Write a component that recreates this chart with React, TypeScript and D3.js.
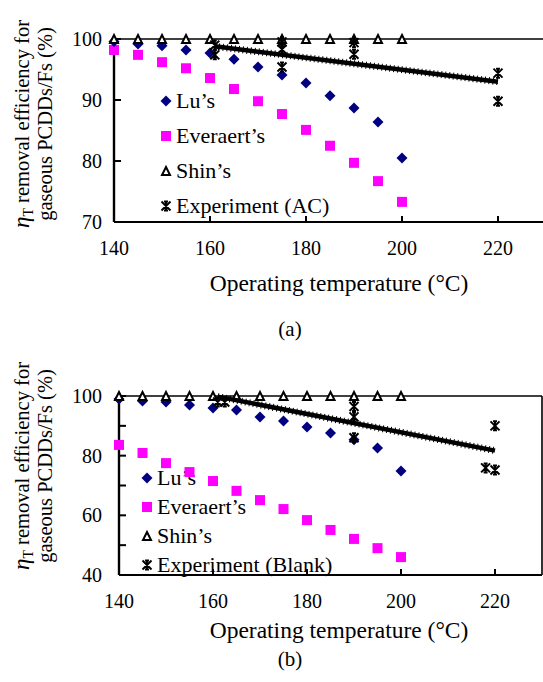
import React from 'react';
import * as d3 from 'd3';

// operating temperatures of the model series (°C)
const temps = [140, 145, 150, 155, 160, 165, 170, 175, 180, 185, 190, 195, 200];

// (a) AC
const luA = [99.6, 99.2, 98.9, 98.2, 97.7, 96.7, 95.4, 94.1, 92.8, 90.7, 88.7, 86.4, 80.5];
const everaertA = [98.2, 97.4, 96.2, 95.2, 93.6, 91.8, 89.8, 87.7, 85.1, 82.5, 79.7, 76.7, 73.3];
const shinA = [100, 100, 100, 100, 100, 100, 100, 100, 100, 100, 100, 100, 100];
const expLineA: [number, number][] = [[161, 98.8], [220, 93.0]];
const expPointsA: [number, number][] = [
  [161, 99.0], [161, 97.4], [175, 99.5], [175, 98.3], [175, 95.4],
  [190, 99.4], [190, 97.5], [220, 94.4], [220, 89.8],
];

// (b) Blank
const luB = [99.0, 98.3, 98.0, 97.0, 96.0, 95.3, 93.0, 91.6, 89.6, 87.6, 85.3, 82.6, 74.9];
const everaertB = [83.6, 80.9, 77.5, 74.5, 71.5, 68.2, 65.1, 62.1, 58.4, 55.1, 52.1, 49.0, 46.0];
const shinB = [100, 100, 100, 100, 100, 100, 100, 100, 100, 100, 100, 100, 100];
const expLineB: [number, number][] = [[161, 99.8], [220, 81.7]];
const expPointsB: [number, number][] = [
  [161, 98.0], [162.5, 98.0], [190, 96.5], [190, 93.0], [190, 86.0],
  [218, 75.9], [220, 75.2], [220, 90.0],
];

const xTicks = [140, 160, 180, 200, 220];
const yTicksA = [70, 80, 90, 100];
const yTicksB = [40, 50, 60, 70, 80, 90, 100];
const yLabelsB = [40, 60, 80, 100];

const FONT = '"Liberation Serif", "Times New Roman", serif';
const NAVY = '#000080';
const MAGENTA = '#FF00FF';

function Diamond({ x, y, r = 5.5 }: { x: number; y: number; r?: number }) {
  return <path d={`M${x},${y - r}L${x + r},${y}L${x},${y + r}L${x - r},${y}Z`} fill={NAVY} />;
}
function Square({ x, y, s = 10 }: { x: number; y: number; s?: number }) {
  return <rect x={x - s / 2} y={y - s / 2} width={s} height={s} fill={MAGENTA} />;
}
function Tri({ x, y, s = 8 }: { x: number; y: number; s?: number }) {
  return (
    <path
      d={`M${x},${y - s / 2}L${x + s / 2},${y + s / 2}L${x - s / 2},${y + s / 2}Z`}
      fill="#fff"
      stroke="#000"
      strokeWidth={2}
    />
  );
}
function Star({ x, y, r = 4.5 }: { x: number; y: number; r?: number }) {
  return (
    <path
      d={`M${x - r},${y - r}L${x + r},${y + r}M${x + r},${y - r}L${x - r},${y + r}M${x},${y - r}L${x},${y + r}M${x - 2},${y - r}L${x + 2},${y - r}M${x - 2},${y + r}L${x + 2},${y + r}`}
      stroke="#000"
      strokeWidth={2}
      fill="none"
    />
  );
}

type PanelProps = {
  top: number; bottom: number; left: number; right: number;
  xDomain: [number, number]; yDomain: [number, number];
  yTicks: number[]; yLabels: number[];
  lu: number[]; everaert: number[]; shin: number[];
  expLine: [number, number][]; expPoints: [number, number][];
  legendX: number; legendY: number; legendGap: number;
  expName: string; titleCenter: number; xTitleY: number; tag: string; tagY: number;
};

function Panel(p: PanelProps) {
  const x = d3.scaleLinear().domain(p.xDomain).range([p.left, p.right]);
  const y = d3.scaleLinear().domain(p.yDomain).range([p.bottom, p.top]);
  const line = d3.line<[number, number]>().x(d => x(d[0])).y(d => y(d[1]));
  const legend = [
    { name: "Lu\u2019s", m: (cx: number, cy: number) => <Diamond x={cx} y={cy} /> },
    { name: "Everaert\u2019s", m: (cx: number, cy: number) => <Square x={cx} y={cy} /> },
    { name: "Shin\u2019s", m: (cx: number, cy: number) => <Tri x={cx} y={cy} /> },
    { name: p.expName, m: (cx: number, cy: number) => <Star x={cx} y={cy} /> },
  ];
  return (
    <g fontFamily={FONT} fill="#000">
      {/* legend (drawn under the marks like the original) */}
      {legend.map((l, i) => (
        <g key={l.name}>
          {l.m(p.legendX, p.legendY + i * p.legendGap)}
          <text x={p.legendX + 10} y={p.legendY + i * p.legendGap + 7} fontSize={22}>{l.name}</text>
        </g>
      ))}
      {/* frame */}
      <line x1={p.left} x2={p.right} y1={p.top} y2={p.top} stroke="#000" strokeWidth={1.6} />
      <line x1={p.right} x2={p.right} y1={p.top} y2={p.bottom} stroke="#000" strokeWidth={1.6} />
      <line x1={p.left} x2={p.right} y1={p.bottom} y2={p.bottom} stroke="#000" strokeWidth={2} />
      <line x1={p.left} x2={p.left} y1={p.top} y2={p.bottom} stroke="#000" strokeWidth={2.4} />
      {xTicks.map(t => (
        <g key={'x' + t}>
          <line x1={x(t)} x2={x(t)} y1={p.bottom} y2={p.bottom - 6} stroke="#000" strokeWidth={2} />
          <text x={x(t)} y={p.bottom + 33} fontSize={20} textAnchor="middle">{t}</text>
        </g>
      ))}
      {p.yTicks.map(t => (
        <line key={'y' + t} x1={p.left} x2={p.left + 7} y1={y(t)} y2={y(t)} stroke="#000" strokeWidth={2} />
      ))}
      {p.yLabels.map(t => (
        <text key={'yl' + t} x={102} y={y(t) + 7} fontSize={20} textAnchor="end">{t}</text>
      ))}
      {/* axis titles */}
      <text x={339} y={p.xTitleY} fontSize={23.5} textAnchor="middle">Operating temperature (°C)</text>
      <text transform={`translate(29,${p.titleCenter}) rotate(-90)`} fontSize={20.5} textAnchor="middle">
        <tspan fontStyle="italic" fontSize={23}>η</tspan>
        <tspan fontSize={14} dy={4}>T</tspan>
        <tspan dy={-4}> removal efficiency for</tspan>
      </text>
      <text transform={`translate(52,${p.titleCenter}) rotate(-90)`} fontSize={20.5} textAnchor="middle">
        gaseous PCDDs/Fs (%)
      </text>
      <text x={290} y={p.tagY} fontSize={21} textAnchor="middle">{p.tag}</text>
      {/* series */}
      {temps.map((t, i) => <Square key={'e' + t} x={x(t)} y={y(p.everaert[i])} />)}
      {temps.map((t, i) => <Diamond key={'l' + t} x={x(t)} y={y(p.lu[i])} />)}
      {temps.map((t, i) => <Tri key={'s' + t} x={x(t)} y={y(p.shin[i])} />)}
      <path d={line(p.expLine) ?? ''} stroke="#000" strokeWidth={4.5} fill="none" />
      <path d={line(p.expLine) ?? ''} stroke="#000" strokeWidth={7} strokeDasharray="1 3" fill="none" />
      {p.expPoints.map((d, i) => <Star key={'p' + i} x={x(d[0])} y={y(d[1])} />)}
    </g>
  );
}

export default function App() {
  return (
    <svg width={543} height={682} style={{ position: 'absolute', left: 0, top: 0, background: '#fff' }}>
      <rect width={543} height={682} fill="#fff" />
      <Panel
        top={39} bottom={222} left={114} right={546}
        xDomain={[140, 230]} yDomain={[70, 100]}
        yTicks={yTicksA} yLabels={yTicksA}
        lu={luA} everaert={everaertA} shin={shinA}
        expLine={expLineA} expPoints={expPointsA}
        legendX={166} legendY={101} legendGap={35}
        expName="Experiment (AC)" titleCenter={124} xTitleY={291} tag="(a)" tagY={336}
      />
      <Panel
        top={396} bottom={575} left={119} right={542}
        xDomain={[140, 230]} yDomain={[40, 100]}
        yTicks={yTicksB} yLabels={yLabelsB}
        lu={luB} everaert={everaertB} shin={shinB}
        expLine={expLineB} expPoints={expPointsB}
        legendX={147} legendY={478} legendGap={29}
        expName="Experiment (Blank)" titleCenter={466} xTitleY={638} tag="(b)" tagY={666}
      />
    </svg>
  );
}
